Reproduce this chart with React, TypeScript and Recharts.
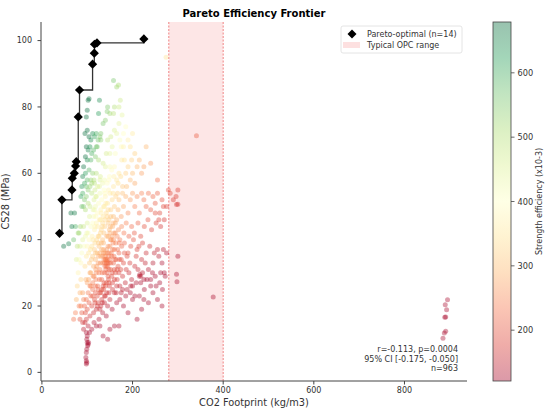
import React from 'react';
import { ComposedChart, Scatter, Line, XAxis, YAxis, ReferenceArea, ReferenceLine } from 'recharts';

type P = [number, number];

const xTicks = [0, 200, 400, 600, 800];
const yTicks = [0, 20, 40, 60, 80, 100];
const cbTicks = [200, 300, 400, 500, 600];
const cbMin = 121;
const cbMax = 679;

const paretoX = [38.9, 44.2, 66.3, 67, 71.4, 74.3, 75.8, 80.2, 83, 111.8, 115.6, 116, 121.5, 225];
const paretoY = [41.9, 52, 55, 58.5, 60, 62.2, 63.5, 77, 85.1, 92.9, 96.2, 98.9, 99.3, 100.5];

const greenPts: P[] = [
  [102,82],[104,82.5],[100,79],[98,77],[127,82],
  [95,72],[100,73],[104,71],[108,70],[112,72],[116,71],[120,72],[124,70],[128,71],[98,68],[102,67],[106,68],[110,66],[114,67],[118,65],[122,68],[100,64],[108,64],[96,65],
  [92,62],[96,60],[100,58],[104,61],[108,58],[112,60],[116,57],[94,57],[98,56],[102,55],[106,56],[110,57],[90,59],[88,56],
  [86,53],[90,54],[94,52],[98,53],[102,51],[92,50],[96,49],[88,50],
];

const upperPts: P[] = [
  [158,88],[165,86],[145,80],[150,78],[140,76],[135,75],[160,73],[170,75],[165,72],[172,70],[175,68],[180,68],[155,68],[150,66],[145,70],[130,70],[120,68],[125,64],[135,63],[140,62],[150,62],[160,62],[170,60],[185,60],[190,62],[200,60],[210,62],[215,64],[128,58],[138,58],[148,58],[158,56],[168,57],[178,56],[195,58],[205,57],[120,60],[115,58],[180,72],[190,70],[195,68],[160,80],[170,80],[125,78],[130,72],[142,66],[152,71],[162,66],[176,64],[182,64],[198,64],[230,68],
  [144,78.6],[158,78],[177,77.6],[173,82],[169,86.6],[185,74],[200,72],[205,66],[220,60],[225,62],[240,63],[255,58],
];

const midPts: P[] = [
  [110,54],[115,52],[118,50],[120,53],[122,48],[125,51],[128,54],[130,49],[132,52],[135,47],[138,50],[140,53],[142,48],[145,51],[148,46],[150,54],[152,49],[155,52],[158,47],[160,50],[163,53],[165,46],[168,49],[170,52],[175,47],[178,54],[180,50],[185,53],[190,48],[195,52],[200,54],[205,50],[210,53],[215,48],[220,54],[225,52],[230,50],[235,54],[240,49],[245,53],[250,51],[255,54],[260,48],[265,52],[270,46],[275,50],
  [112,45],[116,43],[119,47],[123,44],[126,41],[129,46],[131,43],[134,45],[137,42],[139,44],[143,41],[146,45],[149,43],[153,40],[156,44],[159,42],[162,45],[166,41],[169,43],[172,40],[176,44],[181,42],[186,45],[192,41],[198,44],[204,42],[212,45],[218,41],[226,44],[234,46],[242,43],[252,45],[262,44],
  [105,47],[108,44],[102,42],[100,45],[106,50],[113,49],[117,55],[127,56],[137,55],[147,55],[157,54],[167,54],[187,56],[250,48],[258,46],[268,50],
];

const corePts: P[] = [
  [110,38],[112,35],[114,32],[116,37],[118,34],[120,30],[122,36],[124,33],[126,38],[128,31],[130,35],[132,28],[134,33],[136,37],[138,30],[140,34],[142,32],[144,36],[146,29],[148,33],[150,38],[152,31],[154,35],[156,27],[158,33],[160,37],[162,30],[164,34],[166,28],[168,32],[170,36],[172,26],[174,31],[176,38],[178,29],[180,33],[184,27],[188,35],[192,30],[196,38],[200,26],[205,32],[210,37],[215,29],[220,34],[225,28],[230,36],[235,31],[240,26],[245,33],[250,29],[255,37],[260,27],[265,33],[270,30],[275,36],
  [140,35],[142,33],[144,34],[141,31],[145,32],[139,36],[143,37],[147,35],[138,33],[146,38],[135,35],[150,34],[133,30],[137,27],[127,28],[123,26],[119,28],[115,29],[108,30],[105,33],[103,36],[100,38],[98,35],[95,32],[93,38],[90,40],[88,36],[86,33],[84,38],[82,42],[85,44],[92,44],[96,41],[99,42],[104,40],[107,37],[111,41],[117,39],[121,40],[125,39],[131,39],[136,39],[151,40],[157,39],[163,39],[171,39],[182,39],[190,36],[202,40],[208,35],[214,38],[222,39],[228,33],[238,38],[248,36],[258,35],[268,37],
  [155,30],[160,28],[165,26],[170,30],[128,36],[132,37],[129,33],[153,36],[148,31],[161,34],[175,34],[182,36],[186,31],[194,33],[198,28],[212,31],[218,27],[232,28],[244,30],[262,30],[272,29],
];

const densePts: P[] = [
  [141,34],[143,33.5],[145,33],[139,32],[137,34],[144,30],[148,36],[136,36],[134,40],[129,42],[133,44],[139,46],[144,47],[151,44],[156,37],[159,35],[152,33],[147,28],[142,27],[135,26],[130,24],[126,30],[121,32],[118,36],[124,41],[127,46],[131,48],[136,50],[141,51],[146,49],[152,47],[157,45],[162,42],[167,37],[171,34],[166,31],[160,31],[154,29],[149,26],[143,24],[138,23],[133,21],[128,19],[122,20],[117,21],[112,23],[108,26],[113,29],[119,31],[125,35],[146,41],[150,42],[155,41],[158,40],[117,44],[113,40],[109,34],[106,30],[103,28],[119,53],[123,56],[129,59],[134,57],[139,54],[144,57],[149,59],[154,61],[159,59],[165,58],[174,59],[114,47],[116,49],[120,45],
];

const lowerPts: P[] = [
  [90,24],[92,22],[94,20],[96,18],[98,22],[100,19],[102,24],[104,21],[106,17],[108,23],[110,20],[112,25],[114,18],[116,22],[118,24],[120,19],[122,23],[124,21],[126,16],[128,24],[130,20],[132,22],[134,18],[136,25],[138,21],[140,23],[142,17],[145,20],[148,24],[150,22],[155,19],[160,24],[165,21],[170,14],[175,24],[180,20],[185,23],[190,18],[195,24],[200,22],[205,23],[210,16],[215,23],[220,19],[225,22],[235,21],[245,24],[255,22],[265,20],
  [88,18],[86,20],[84,16],[90,15],[92,13],[95,15],[98,16],[102,14],[105,12],[110,13],[115,15],[120,14],[128,14],[135,11],[145,10],[150,13],[160,14],
  [97,28],[100,27],[106,26],[112,27],[118,26],[124,25],[132,25],[140,26],[148,27],[156,25],[164,24],[172,22],[178,25],[188,25],[196,26],[208,27],[226,25],[240,28],[252,26],[266,25],[218,29],[222,30],[216,29.5],
];

const tailPts: P[] = [
  [98,12],[99,10],[100,9],[101,8],[99,7],[98,6],[97,4.5],[98,3.5],[99,3],[98,2.5],[100,11],[103,9],[102,8.5],
];

const edgePts: P[] = [
  [48,38],[59,38.8],[70,16],[74,18],[76,22],[78,26],[80,30],[76,34],[78,38],[80,42],[74,44],[70,40],[72,48],[82,20],[84,24],[86,28],[82,34],[66,44],[64,48],
];

const outlierPts: P[] = [
  [274,95],[300,55],[300,50.7],[297,50.6],[283,54],[296,53],[300,35],[297,29.6],[298,27.3],[341,71.3],[378,22.7],[279,55],[290,52],
  [895,21.9],[890,20.4],[893,18.9],[889,16.6],[891,16.7],[891,12.4],[888,11.9],[885,10.3],
];

const STOPS = ['#a50026', '#d73027', '#f46d43', '#fdae61', '#fee08b', '#ffffbf', '#d9ef8b', '#a6d96a', '#66bd63', '#1a9850', '#006837'];

function hexToRgb(h: string): number[] {
  return [parseInt(h.slice(1, 3), 16), parseInt(h.slice(3, 5), 16), parseInt(h.slice(5, 7), 16)];
}

function cmap(t: number): string {
  const c = Math.max(0, Math.min(1, t));
  const s = c * 10;
  const i = Math.min(9, Math.floor(s));
  const f = s - i;
  const a = hexToRgb(STOPS[i]);
  const b = hexToRgb(STOPS[i + 1]);
  const r = a.map((v, k) => Math.round(v + (b[k] - v) * f));
  return `rgb(${r[0]},${r[1]},${r[2]})`;
}

function effColor(x: number, y: number): string {
  const eff = (y / x) * 1000;
  return cmap((eff - cbMin) / (cbMax - cbMin));
}

const cloud = [...greenPts, ...upperPts, ...midPts, ...corePts, ...densePts, ...lowerPts, ...tailPts, ...edgePts, ...outlierPts].map(
  ([x, y]) => ({ x, y })
);
const pareto = paretoX.map((x, i) => ({ x, y: paretoY[i] }));

const FONT = 'DejaVu Sans, sans-serif';
const TXT = '#333';
const AX = '#444';
const ALPHA = 0.38;

const Dot = (props: any) => {
  const { cx, cy, payload } = props;
  if (cx == null || cy == null) return null;
  return <circle cx={cx} cy={cy} r={2.5} fill={effColor(payload.x, payload.y)} fillOpacity={ALPHA} />;
};

const Diamond = (props: any) => {
  const { cx, cy } = props;
  if (cx == null || cy == null) return null;
  const d = 4.6;
  return <polygon points={`${cx},${cy - d} ${cx + d},${cy} ${cx},${cy + d} ${cx - d},${cy}`} fill="#000" />;
};

// plot area geometry
const PL = 41, PR = 467, PT = 22, PB = 381;
const CBX = 493, CBW = 18;

export default function App() {
  const cbScale = (v: number) => PB - ((v - cbMin) / (cbMax - cbMin)) * (PB - PT);
  return (
    <div style={{ position: 'absolute', left: 0, top: 0, width: 550, height: 416, background: '#fff', fontFamily: FONT }}>
      <ComposedChart width={550} height={416} margin={{ top: PT, right: 550 - PR, left: 0, bottom: 0 }}>
        <XAxis
          type="number"
          dataKey="x"
          domain={[-2, 938]}
          ticks={xTicks}
          allowDataOverflow
          height={416 - PB}
          tick={{ fontSize: 8, fill: TXT, fontFamily: FONT }}
          tickSize={3.5}
          tickMargin={3}
          stroke={AX}
        />
        <YAxis
          type="number"
          dataKey="y"
          domain={[-2.6, 105.6]}
          ticks={yTicks}
          allowDataOverflow
          width={PL}
          tick={{ fontSize: 8, fill: TXT, fontFamily: FONT }}
          tickSize={3.5}
          tickMargin={5.5}
          stroke={AX}
        />
        <ReferenceArea x1={280} x2={400} y1={-2.6} y2={105.6} fill="#fde6e6" fillOpacity={1} stroke="none" ifOverflow="hidden" />
        <ReferenceLine x={280} stroke="#ee7777" strokeDasharray="2 1.5" strokeWidth={0.9} />
        <ReferenceLine x={400} stroke="#ee7777" strokeDasharray="2 1.5" strokeWidth={0.9} />
        <Scatter data={cloud} dataKey="y" shape={Dot} isAnimationActive={false} />
        <Line data={pareto} dataKey="y" type="stepAfter" stroke="#333" strokeWidth={1.3} dot={false} isAnimationActive={false} />
        <Scatter data={pareto} dataKey="y" shape={Diamond} isAnimationActive={false} />
      </ComposedChart>
      <svg width={550} height={416} style={{ position: 'absolute', left: 0, top: 0, pointerEvents: 'none' }}>
        <defs>
          <linearGradient id="cbg" x1="0" y1="1" x2="0" y2="0">
            {STOPS.map((c, i) => (
              <stop key={i} offset={`${i * 10}%`} stopColor={c} stopOpacity={0.4} />
            ))}
          </linearGradient>
        </defs>
        <text x={(PL + PR) / 2} y={17} textAnchor="middle" fontSize={10} fontWeight="bold" fill="#000" fontFamily={FONT}>
          Pareto Efficiency Frontier
        </text>
        <text x={(PL + PR) / 2} y={406} textAnchor="middle" fontSize={9.8} fill={TXT} fontFamily={FONT}>
          CO2 Footprint (kg/m3)
        </text>
        <text x={0} y={0} transform={`translate(8.5, ${(PT + PB) / 2}) rotate(-90)`} textAnchor="middle" fontSize={9.8} fill={TXT} fontFamily={FONT}>
          CS28 (MPa)
        </text>
        {/* legend */}
        <rect x={341} y={26} width={121} height={27} fill="#fff" fillOpacity={0.85} stroke="#ddd" strokeWidth={0.8} rx={2} />
        <polygon points="352,29.5 356.5,34 352,38.5 347.5,34" fill="#000" />
        <text x={367} y={37} fontSize={8} fill={TXT} fontFamily={FONT}>Pareto-optimal (n=14)</text>
        <rect x={343} y={42} width={17} height={6} fill="#fde0e0" />
        <text x={367} y={48} fontSize={8} fill={TXT} fontFamily={FONT}>Typical OPC range</text>
        {/* stats */}
        <text x={458} y={352} textAnchor="end" fontSize={8} fill={TXT} fontFamily={FONT}>r=-0.113, p=0.0004</text>
        <text x={458} y={361.5} textAnchor="end" fontSize={8} fill={TXT} fontFamily={FONT}>95% CI [-0.175, -0.050]</text>
        <text x={458} y={371} textAnchor="end" fontSize={8} fill={TXT} fontFamily={FONT}>n=963</text>
        {/* colorbar */}
        <rect x={CBX} y={PT} width={CBW} height={PB - PT} fill="#fff" />
        <rect x={CBX} y={PT} width={CBW} height={PB - PT} fill="url(#cbg)" stroke={AX} strokeWidth={0.8} />
        {cbTicks.map((v) => (
          <g key={v}>
            <line x1={CBX + CBW} x2={CBX + CBW + 3.5} y1={cbScale(v)} y2={cbScale(v)} stroke={AX} strokeWidth={0.8} />
            <text x={CBX + CBW + 6.5} y={cbScale(v) + 3} fontSize={8.2} fill={TXT} fontFamily={FONT}>{v}</text>
          </g>
        ))}
        <text x={0} y={0} transform={`translate(542, ${(PT + PB) / 2}) rotate(-90)`} textAnchor="middle" fontSize={8} fill={TXT} fontFamily={FONT}>
          Strength efficiency (x10-3)
        </text>
      </svg>
    </div>
  );
}
